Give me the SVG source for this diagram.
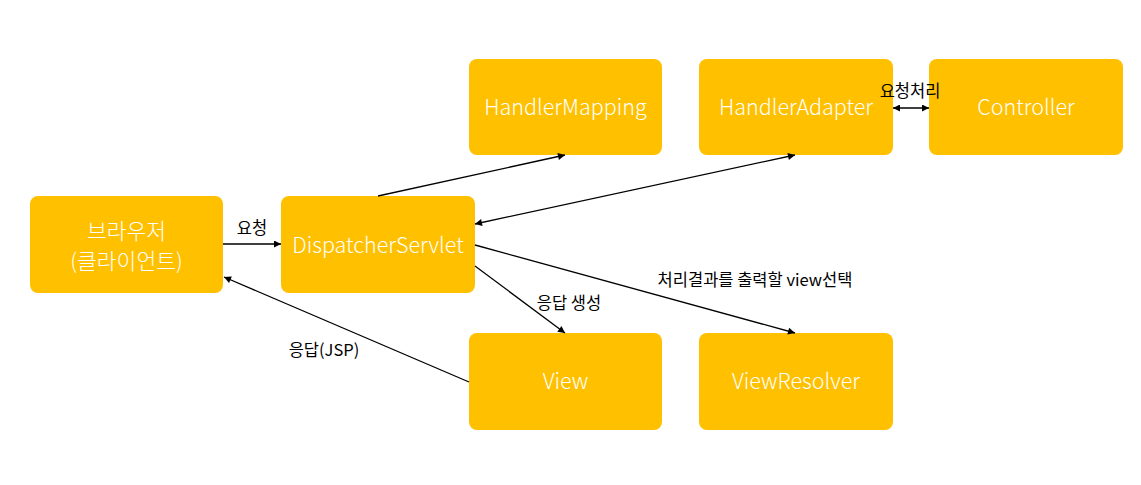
<svg xmlns="http://www.w3.org/2000/svg" width="1141" height="485" viewBox="0 0 1141 485">
<style>
.box{fill:#FFC000}
.nt{font-family:"Noto Sans CJK KR","Noto Sans",sans-serif;font-size:21.5px;fill:#FFFFFF;text-anchor:middle;font-weight:300}
.lb{font-family:"Noto Sans CJK KR","Noto Sans",sans-serif;font-size:16.5px;fill:#000000;text-anchor:middle}
.ln{stroke:#000;stroke-width:1.3;fill:none}
</style>
<defs>
<marker id="ah" viewBox="0 0 10 10" refX="10" refY="5" markerWidth="9" markerHeight="7" markerUnits="userSpaceOnUse" orient="auto-start-reverse">
<path d="M0,0 L10,5 L0,10 z" fill="#000"/>
</marker>
</defs>
<rect width="1141" height="485" fill="#fff"/>
<g id="browser"><rect class="box" x="30" y="196" width="193" height="97" rx="8"/><text class="nt" x="126.5" y="239">브라우저</text><text class="nt" x="126.5" y="269">(클라이언트)</text></g>
<g id="dispatcher"><rect class="box" x="281" y="196" width="194" height="97" rx="8"/><text class="nt" x="378" y="253">DispatcherServlet</text></g>
<g id="handlerMapping"><rect class="box" x="469" y="59" width="193" height="96" rx="8"/><text class="nt" x="565.5" y="115">HandlerMapping</text></g>
<g id="handlerAdapter"><rect class="box" x="699" y="59" width="194" height="96" rx="8"/><text class="nt" x="796" y="115">HandlerAdapter</text></g>
<g id="controller"><rect class="box" x="929" y="59" width="194" height="96" rx="8"/><text class="nt" x="1026" y="115">Controller</text></g>
<g id="view"><rect class="box" x="469" y="333" width="193" height="97" rx="8"/><text class="nt" x="565.5" y="389">View</text></g>
<g id="viewResolver"><rect class="box" x="699" y="333" width="194" height="97" rx="8"/><text class="nt" x="796" y="389">ViewResolver</text></g>
<g id="connectors">
<line class="ln" x1="223" y1="244" x2="281" y2="244" marker-end="url(#ah)"/>
<line class="ln" x1="378" y1="196" x2="565" y2="155" marker-end="url(#ah)"/>
<line class="ln" x1="475" y1="224" x2="795" y2="155" marker-start="url(#ah)" marker-end="url(#ah)"/>
<line class="ln" x1="893" y1="108" x2="929" y2="108" marker-start="url(#ah)" marker-end="url(#ah)"/>
<line class="ln" x1="475" y1="245" x2="795" y2="333" marker-end="url(#ah)"/>
<line class="ln" x1="475" y1="266" x2="565" y2="333" marker-end="url(#ah)"/>
<line class="ln" x1="469" y1="382" x2="224" y2="277" marker-end="url(#ah)"/>
</g>
<g id="labels">
<text class="lb" x="252" y="234">요청</text>
<text class="lb" x="910" y="97">요청처리</text>
<text class="lb" x="569" y="309">응답 생성</text>
<text class="lb" x="755" y="286">처리결과를 출력할 view선택</text>
<text class="lb" x="324" y="356">응답(JSP)</text>
</g>
</svg>
